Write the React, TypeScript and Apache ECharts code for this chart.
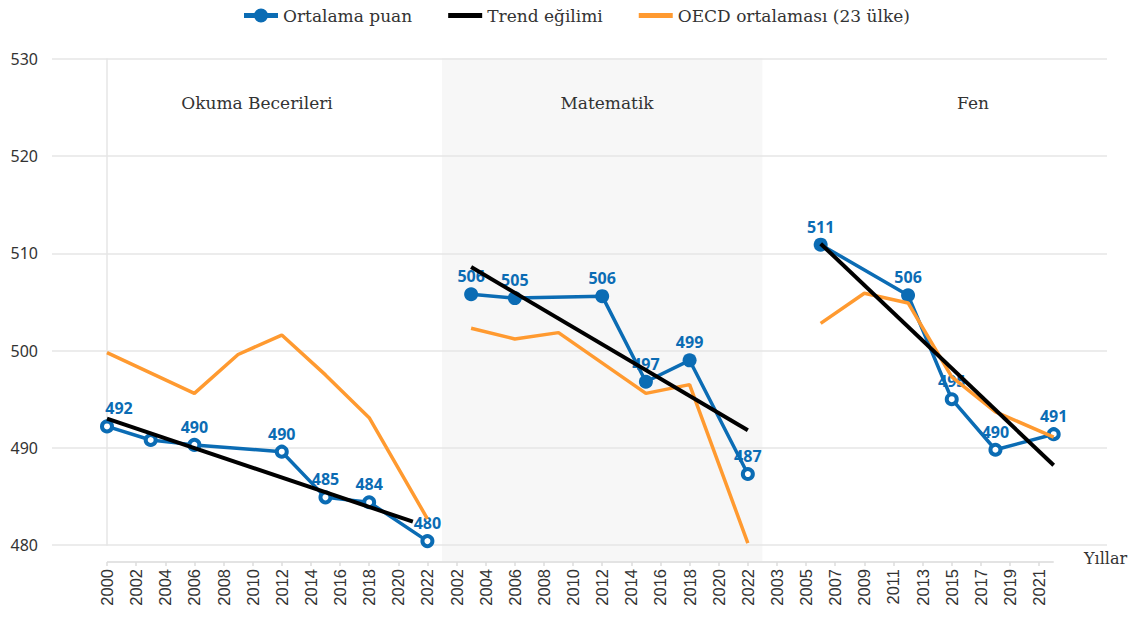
import React, { useEffect, useRef } from 'react';
import * as echarts from 'echarts';

// ---- tick labels (three panels share one axis) ----
const readingTicks = ['2000', '2002', '2004', '2006', '2008', '2010', '2012', '2014', '2016', '2018', '2020', '2022'];
const mathTicks = ['2002', '2004', '2006', '2008', '2010', '2012', '2014', '2016', '2018', '2020', '2022'];
const scienceTicks = ['2003', '2005', '2007', '2009', '2011', '2013', '2015', '2017', '2019', '2021'];

const panelTitles = ['Okuma Becerileri', 'Matematik', 'Fen'];

// ---- Okuma Becerileri ----
const readingYears = [2000, 2003, 2006, 2012, 2015, 2018, 2022];
const readingScores = [492.2, 490.8, 490.3, 489.6, 484.9, 484.4, 480.4];
const readingHollow = [true, true, true, true, true, true, true];
const readingLabeled = [true, false, true, true, true, true, true];
const readingOecdYears = [2000, 2006, 2009, 2012, 2015, 2018, 2022];
const readingOecd = [499.8, 495.6, 499.6, 501.6, 497.5, 493.1, 482.7];
const readingTrendYears = [2000, 2021];
const readingTrend = [493.0, 482.4];

// ---- Matematik ----
const mathYears = [2003, 2006, 2012, 2015, 2018, 2022];
const mathScores = [505.8, 505.4, 505.6, 496.8, 499.0, 487.3];
const mathHollow = [false, false, false, false, false, true];
const mathLabeled = [true, true, true, true, true, true];
const mathOecdYears = [2003, 2006, 2009, 2015, 2018, 2022];
const mathOecd = [502.3, 501.2, 501.85, 495.6, 496.5, 480.2];
const mathTrendYears = [2003, 2022];
const mathTrend = [508.6, 491.8];

// ---- Fen ----
const scienceYears = [2006, 2012, 2015, 2018, 2022];
const scienceScores = [510.9, 505.7, 495.0, 489.8, 491.4];
const scienceHollow = [false, false, true, true, true];
const scienceLabeled = [true, true, true, true, true];
const scienceOecdYears = [2006, 2009, 2012, 2015, 2018, 2022];
const scienceOecd = [502.8, 505.9, 504.9, 497.3, 493.7, 491.1];
const scienceTrendYears = [2006, 2022];
const scienceTrend = [511.0, 488.2];

const BLUE = '#0b6cb4';
const ORANGE = '#ff9a30';
const BLACK = '#000000';
const NAME_SCORE = 'Ortalama puan';
const NAME_TREND = 'Trend eğilimi';
const NAME_OECD = 'OECD ortalaması (23 ülke)';

const ICON_LINE_DOT = 'path://M0,6.5 H34 V11.5 H0 Z M10,9 A7,7 0 1,1 24,9 A7,7 0 1,1 10,9 Z';
const ICON_LINE = 'path://M0,0 H34 V5 H0 Z';

const allTicks = [...readingTicks, ...mathTicks, ...scienceTicks];
const mathStart = readingTicks.length;
const scienceStart = readingTicks.length + mathTicks.length;

const mapReading = (y: number) => (y - 2000) / 2;
const mapMath = (y: number) => mathStart + (y - 2002) / 2;
const mapScience = (y: number) => scienceStart + (y - 2003) / 2;

function scoreSeries(years: number[], vals: number[], hollow: boolean[], labeled: boolean[], map: (y: number) => number, firstOffset?: number[]) {
  return {
    name: NAME_SCORE,
    type: 'line',
    z: 2,
    symbol: 'circle',
    symbolSize: 14,
    showAllSymbol: true,
    lineStyle: { color: BLUE, width: 3.5 },
    itemStyle: { color: BLUE },
    label: {
      show: true,
      position: 'top',
      distance: 3,
      color: BLUE,
      fontWeight: 'bold',
      fontSize: 16,
      fontFamily: 'Open Sans',
      formatter: (p: any) => String(Math.round(p.value[1])),
    },
    data: years.map((y, i) => ({
      value: [map(y), vals[i]],
      symbolSize: hollow[i] ? 10 : 14,
      itemStyle: hollow[i] ? { color: '#ffffff', borderColor: BLUE, borderWidth: 4 } : { color: BLUE },
      label: { show: labeled[i], offset: i === 0 && firstOffset ? firstOffset : [0, 0] },
    })),
  };
}

function plainSeries(name: string, color: string, width: number, z: number, years: number[], vals: number[], map: (y: number) => number) {
  return {
    name,
    type: 'line',
    z,
    symbol: 'none',
    lineStyle: { color, width },
    itemStyle: { color },
    data: years.map((y, i) => [map(y), vals[i]]),
  };
}

export default function App() {
  const ref = useRef<HTMLDivElement>(null);
  useEffect(() => {
    const chart = echarts.init(ref.current!, null, { renderer: 'svg' });
    const option: any = {
      animation: false,
      backgroundColor: '#ffffff',
      legend: {
        left: 244,
        top: 7,
        padding: 0,
        itemWidth: 34,
        itemHeight: 16,
        itemGap: 36,
        symbolKeepAspect: true,
        textStyle: { fontFamily: 'DejaVu Serif', fontSize: 17, color: '#333333', padding: [0, 0, 0, 0] },
        data: [
          { name: NAME_SCORE, icon: ICON_LINE_DOT },
          { name: NAME_TREND, icon: ICON_LINE },
          { name: NAME_OECD, icon: ICON_LINE },
        ],
      },
      grid: { left: 52, right: 32, top: 59, bottom: 72 },
      xAxis: {
        type: 'value',
        min: -1.888,
        max: 34.33,
        offset: 17,
        axisLine: { show: false },
        splitLine: { show: false },
        axisTick: {
          show: true,
          customValues: allTicks.map((_, i) => i),
          length: 4,
          lineStyle: { color: '#dddddd', width: 1.5 },
        },
        axisLabel: {
          customValues: allTicks.map((_, i) => i),
          rotate: 90,
          margin: 7,
          fontFamily: 'Liberation Sans',
          fontSize: 16.5,
          color: '#333333',
          formatter: (v: number) => allTicks[Math.round(v)] ?? '',
        },
      },
      yAxis: {
        type: 'value',
        min: 480,
        max: 530,
        interval: 10,
        axisLine: { show: true, lineStyle: { color: '#e6e6e6', width: 1.5 } },
        axisTick: { show: false },
        splitLine: { lineStyle: { color: '#e6e6e6', width: 1.5 } },
        axisLabel: { fontFamily: 'Noto Sans', fontSize: 16, color: '#333333', margin: 14 },
      },
      series: [
        scoreSeries(readingYears, readingScores, readingHollow, readingLabeled, mapReading, [12, 0]),
        scoreSeries(mathYears, mathScores, mathHollow, mathLabeled, mapMath),
        scoreSeries(scienceYears, scienceScores, scienceHollow, scienceLabeled, mapScience),
        plainSeries(NAME_OECD, ORANGE, 3.5, 3, readingOecdYears, readingOecd, mapReading),
        plainSeries(NAME_OECD, ORANGE, 3.5, 3, mathOecdYears, mathOecd, mapMath),
        plainSeries(NAME_OECD, ORANGE, 3.5, 3, scienceOecdYears, scienceOecd, mapScience),
        plainSeries(NAME_TREND, BLACK, 4, 4, readingTrendYears, readingTrend, mapReading),
        plainSeries(NAME_TREND, BLACK, 4, 4, mathTrendYears, mathTrend, mapMath),
        plainSeries(NAME_TREND, BLACK, 4, 4, scienceTrendYears, scienceTrend, mapScience),
      ],
    };
    chart.setOption(option);

    const px = (x: number) => chart.convertToPixel({ xAxisIndex: 0 }, x) as number;
    const py = (y: number) => chart.convertToPixel({ yAxisIndex: 0 }, y) as number;
    const top = py(530) - 1;
    const axisY = py(480) + 17;
    const mathLeft = px(mathStart - 0.5);
    const mathRight = px(scienceStart - 0.5);
    const titleStyle = { fontFamily: 'DejaVu Serif', fontSize: 17, fill: '#333333', textAlign: 'center', textVerticalAlign: 'middle' };
    chart.setOption({
      graphic: [
        {
          type: 'rect',
          z: -10,
          silent: true,
          shape: { x: mathLeft, y: top, width: mathRight - mathLeft, height: axisY - top },
          style: { fill: '#f7f7f7' },
        },
        {
          type: 'line',
          silent: true,
          shape: { x1: px(0), y1: axisY, x2: px(scienceStart + scienceTicks.length - 0.5), y2: axisY },
          style: { stroke: '#e3e3e3', lineWidth: 2 },
        },
        { type: 'text', silent: true, x: 257, y: 103, style: { ...titleStyle, text: panelTitles[0] } },
        { type: 'text', silent: true, x: 607, y: 103, style: { ...titleStyle, text: panelTitles[1] } },
        { type: 'text', silent: true, x: 973, y: 103, style: { ...titleStyle, text: panelTitles[2] } },
        {
          type: 'text',
          silent: true,
          x: 1084,
          y: 558,
          style: { text: 'Yıllar', fontFamily: 'DejaVu Serif', fontSize: 16, fill: '#333333', textAlign: 'left', textVerticalAlign: 'middle' },
        },
      ],
    });
    return () => chart.dispose();
  }, []);
  return <div ref={ref} style={{ position: 'fixed', left: 0, top: 0, width: 1139, height: 617 }} />;
}
